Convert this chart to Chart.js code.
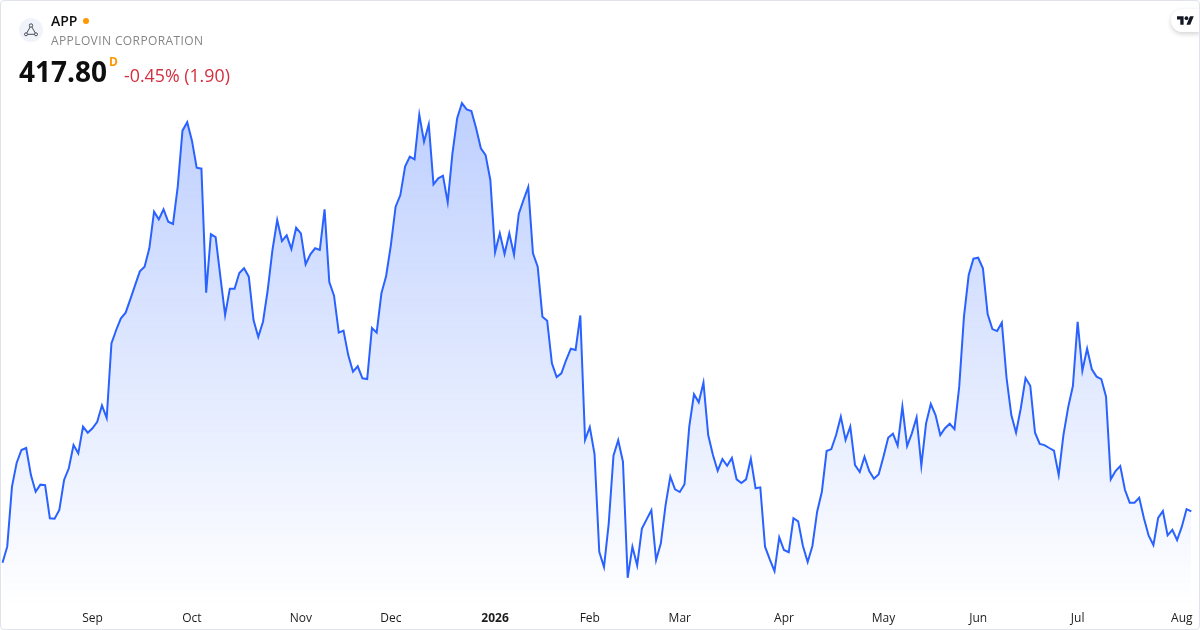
<!DOCTYPE html>
<html>
<head>
<meta charset="utf-8">
<script src="https://cdn.jsdelivr.net/npm/chart.js@4"></script>
<style>
html,body{margin:0;padding:0;background:#fff;width:1200px;height:630px;overflow:hidden;font-family:"Open Sans",sans-serif}
#wrap{position:absolute;left:0;top:0;width:1200px;height:630px}
canvas{position:absolute;left:0;top:0}
.frame{position:absolute;left:0;top:0;width:1198px;height:628px;border:1px solid #e0e3eb;border-radius:4px;pointer-events:none}
.t{position:absolute;white-space:nowrap}
#sym{left:51px;top:11px;font-size:14px;line-height:20px;font-weight:600;color:#0f0f0f}
#name{left:51px;top:32px;font-size:12px;line-height:18px;letter-spacing:.4px;color:#868686}
#price{left:19px;top:52px;font-size:28px;line-height:38px;font-weight:700;color:#0f0f0f}
#sup{left:109px;top:55px;font-size:12px;line-height:14px;font-weight:700;color:#ff9800}
#chg{left:124px;top:63px;font-size:17.8px;line-height:24px;color:#d32f3f}
#dot{position:absolute;left:83px;top:18px;width:6px;height:6px;border-radius:50%;background:#ff9800}
#icon{position:absolute;left:19px;top:18px;width:24px;height:24px}
#badge{position:absolute;left:1171px;top:9px;width:29px;height:23px;background:#fff;border-radius:12px 0 0 12px;box-shadow:0 2px 5px rgba(0,0,0,.18)}
#badge svg{position:absolute;left:6px;top:6px}
</style>
</head>
<body>
<div id="wrap">
<canvas id="c" width="1200" height="630"></canvas>
<svg id="icon" viewBox="0 0 24 24"><circle cx="12" cy="12" r="12" fill="#f0f3fa"/><path d="M12 7.5L7 16.3M12 7.5l5 8.8M7 16.3h10" stroke="#4a4d57" stroke-width="1" fill="none"/><circle cx="12" cy="7.5" r="1.7" fill="#f0f3fa" stroke="#4a4d57"/><circle cx="7" cy="16.3" r="1.5" fill="#f0f3fa" stroke="#4a4d57"/><circle cx="17" cy="16.3" r="1.5" fill="#f0f3fa" stroke="#4a4d57"/></svg>
<div class="t" id="sym">APP</div><div id="dot"></div>
<div class="t" id="name">APPLOVIN CORPORATION</div>
<div class="t" id="price">417.80</div><div class="t" id="sup">D</div>
<div class="t" id="chg">-0.45% (1.90)</div>
<div id="badge"><svg width="17" height="11" viewBox="0 2 36 22"><path d="M14 22H7V11H0V4h14v18zM28 22h-8l7.5-18h8L28 22z" fill="#131722"/><circle cx="20" cy="8" r="4" fill="#131722"/></svg></div>
<div class="frame"></div>
</div>
<script>
const closes = [379.3,391.3,436.3,454.3,463.8,465.3,445.0,432.5,437.8,437.5,412.6,412.3,418.8,441.3,450.1,467.5,461.3,481.3,476.8,480.1,
485.0,497.3,487.8,543.8,553.8,562.6,566.8,577.0,587.5,597.8,601.3,615.1,642.5,636.8,644.3,635.0,633.3,661.3,703.3,709.6,
695.8,675.5,674.8,581.8,625.6,623.5,593.8,565.0,584.8,584.8,596.5,600.1,593.8,561.3,548.5,560.0,583.8,613.8,636.3,620.5,
624.8,614.5,630.5,626.3,603.1,610.6,615.1,613.8,644.3,589.8,579.5,551.8,553.3,535.0,522.5,526.6,517.6,517.0,555.3,551.8,
581.3,594.3,617.5,646.3,655.0,676.3,683.8,681.8,715.3,695.0,708.1,663.1,667.6,669.5,649.6,686.3,712.6,724.0,719.3,718.0,
705.1,690.1,685.0,666.3,612.1,626.3,610.8,626.3,610.3,640.8,651.3,661.0,611.3,601.3,563.8,560.8,528.8,518.5,521.3,531.3,
539.8,538.8,564.7,471.3,481.0,460.8,387.5,376.0,408.8,459.5,471.1,455.0,368.0,391.3,377.3,404.8,411.8,418.6,381.3,393.8,
422.5,443.8,434.3,432.3,438.1,481.3,505.6,499.6,514.3,475.0,460.0,448.3,457.0,452.0,457.8,441.8,439.0,441.8,457.3,435.1,
435.8,391.3,381.8,373.0,398.3,388.8,387.1,412.6,410.3,391.8,379.8,391.8,417.5,432.5,463.0,464.5,475.0,488.8,471.3,481.4,
452.5,447.3,458.8,448.0,442.3,445.6,458.8,473.0,476.0,467.0,496.3,466.8,476.3,488.3,452.0,483.8,498.3,490.0,475.0,480.1,
483.5,479.5,511.3,563.8,595.0,607.3,608.0,600.1,565.8,554.5,553.0,559.3,517.6,490.0,476.8,495.1,517.8,512.0,476.8,468.3,
467.5,465.3,463.3,445.0,475.0,495.8,511.8,560.0,523.3,539.8,524.3,518.8,517.0,503.8,441.8,448.0,451.8,433.8,424.3,424.3,
428.0,412.6,399.5,392.5,412.8,418.0,399.8,404.0,396.3,406.3,419.5,417.8];
const tickSessions = [19,40,63,82,104,124,143,165,186,206,227,249];
const tickLabels = ["Sep","Oct","Nov","Dec","2026","Feb","Mar","Apr","May","Jun","Jul","Aug"];
const boldTick = "2026";
const priceMin = 346.8, priceMax = 733.8;

const categories = closes.map((_, i) => {
  const k = tickSessions.indexOf(i);
  return k >= 0 ? tickLabels[k] : "";
});

new Chart(document.getElementById("c"), {
  type: "line",
  data: {
    labels: categories,
    datasets: [{
      data: closes,
      borderColor: "#2962FF",
      borderWidth: 2,
      pointRadius: 0,
      tension: 0,
      fill: "start",
      borderJoinStyle: "miter",
      backgroundColor(ctx) {
        const a = ctx.chart.chartArea;
        if (!a) return "rgba(41,98,255,0.3)";
        const g = ctx.chart.ctx.createLinearGradient(0, a.top, 0, a.bottom);
        g.addColorStop(0, "rgba(41,98,255,0.31)");
        g.addColorStop(1, "rgba(41,98,255,0)");
        return g;
      }
    }]
  },
  options: {
    responsive: false,
    animation: false,
    devicePixelRatio: 1,
    layout: { padding: { left: 2.5, right: 8.7, top: 90, bottom: 0 } },
    plugins: { legend: { display: false }, tooltip: { enabled: false } },
    scales: {
      x: {
        offset: false,
        grid: { display: false, drawTicks: true, tickLength: 3 },
        border: { display: false },
        afterFit(s) { s.height = 24; },
        ticks: {
          autoSkip: false, maxRotation: 0, minRotation: 0,
          padding: 2,
          color: "#1c1c1c",
          font(ctx) {
            const bold = ctx.tick && ctx.tick.label === boldTick;
            return { family: '"Open Sans"', size: 12, weight: bold ? "700" : "400" };
          }
        }
      },
      y: { display: false, min: priceMin, max: priceMax }
    }
  }
});
</script>
</body>
</html>
